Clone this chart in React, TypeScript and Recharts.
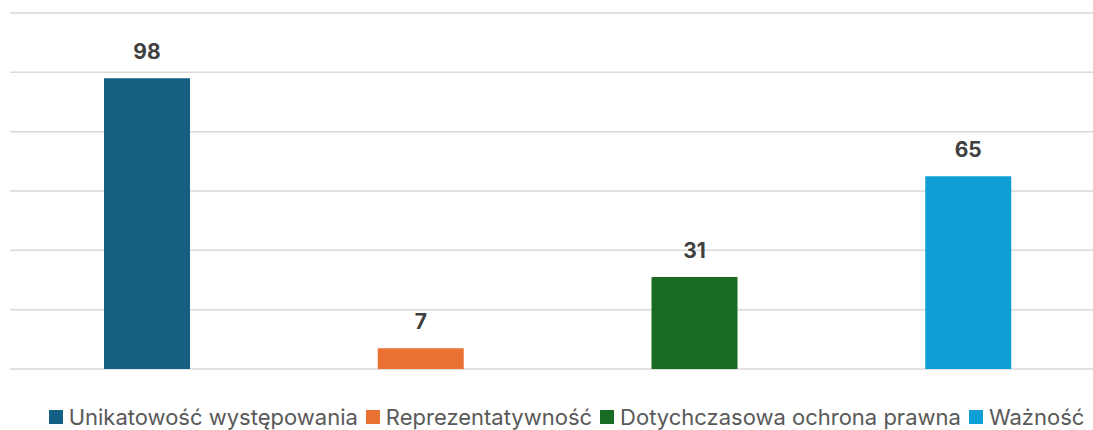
import { BarChart, Bar, Cell, XAxis, YAxis, CartesianGrid, LabelList } from 'recharts';

const categories = ['Unikatowość występowania', 'Reprezentatywność', 'Dotychczasowa ochrona prawna', 'Ważność'];
const values = [98, 7, 31, 65];
const colors = ['#156082', '#E97132', '#196B24', '#0F9ED5'];
const yTicks = [0, 20, 40, 60, 80, 100, 120];

const data = categories.map((name, i) => ({ name, value: values[i] }));

const App = () => {
  return (
    <div style={{ position: 'absolute', left: 0, top: 0, width: 1093, height: 430, overflow: 'hidden', background: '#fff' }}>
      <BarChart width={1105} height={430} data={data} margin={{ top: 13, right: 0, bottom: 61, left: 10 }}>
        <CartesianGrid vertical={false} stroke="#d9d9d9" strokeWidth={1.5} />
        <XAxis dataKey="name" hide />
        <YAxis hide domain={[0, 120]} ticks={yTicks} />
        <Bar dataKey="value" barSize={86} isAnimationActive={false}>
          {data.map((d, i) => (
            <Cell key={d.name} fill={colors[i]} />
          ))}
          <LabelList
            dataKey="value"
            position="top"
            offset={19}
            fill="#404040"
            style={{ fontFamily: 'Inter, sans-serif', fontSize: 21, fontWeight: 700 }}
          />
        </Bar>
      </BarChart>
      <div
        style={{
          position: 'absolute',
          left: 40,
          right: 0,
          top: 406,
          display: 'flex',
          justifyContent: 'center',
          alignItems: 'center',
          fontFamily: 'Inter, sans-serif',
          fontSize: 22,
          lineHeight: '22px',
          color: '#595959',
          whiteSpace: 'nowrap',
        }}
      >
        {categories.map((name, i) => (
          <span key={name} style={{ display: 'inline-flex', alignItems: 'center', marginRight: i < categories.length - 1 ? 8 : 0 }}>
            <span style={{ width: 14, height: 14, background: colors[i], display: 'inline-block', marginRight: 6 }} />
            {name}
          </span>
        ))}
      </div>
    </div>
  );
};

export default App;
